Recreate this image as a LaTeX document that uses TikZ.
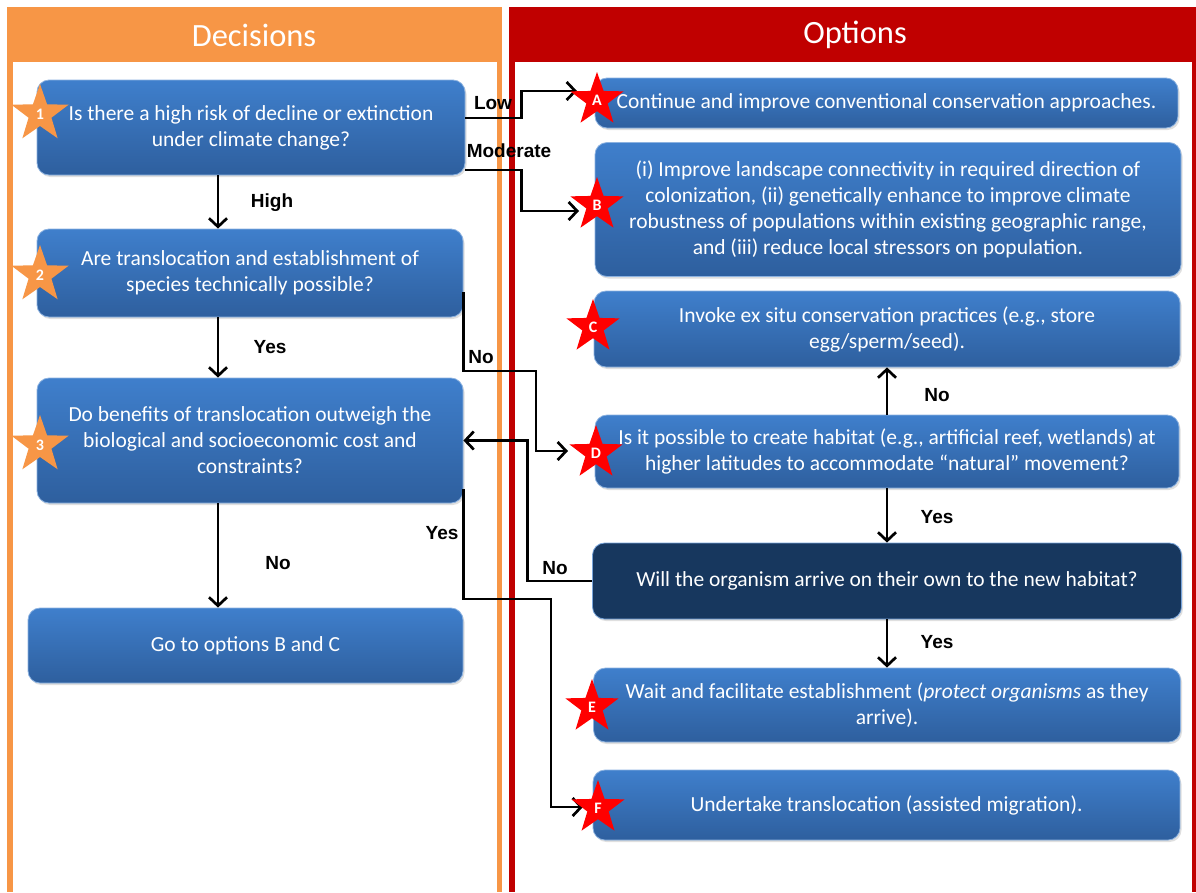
\documentclass[tikz,border=0pt]{standalone}
\usepackage{fontspec}
\setmainfont{Carlito}
\newfontfamily\labfont{Liberation Sans}
\usetikzlibrary{shapes.geometric,arrows.meta,calc,shadows}
\definecolor{boxtop}{HTML}{3F7FCC}
\definecolor{boxbot}{HTML}{2E5F9E}
\definecolor{darkbox}{HTML}{17375E}
\definecolor{orng}{HTML}{F79646}
\definecolor{dred}{HTML}{C00000}
\definecolor{starred}{HTML}{FF0000}
\begin{document}
\begin{tikzpicture}[x=1pt,y=-1pt,
  box/.style={rounded corners=12pt, top color=boxtop, bottom color=boxbot,
    draw=boxtop!60!white, line width=0.8pt, text=white, align=center,
    font=\fontsize{21.5}{26}\selectfont, inner sep=0pt,
    drop shadow={shadow xshift=1.5pt, shadow yshift=-2pt, opacity=0.25}},
  dbox/.style={box, top color=darkbox, bottom color=darkbox, draw=boxtop!70!white},
  ostar/.style={star, star points=5, star point ratio=2.5, minimum size=60pt,
    fill=orng, inner sep=0pt, text=white, font=\bfseries\fontsize{16}{16}\selectfont},
  rstar/.style={ostar, fill=starred, minimum size=56pt},
  lab/.style={font=\labfont\bfseries\fontsize{19}{19}\selectfont, inner sep=0pt},
  hdr/.style={text=white, font=\fontsize{32.5}{32.5}\selectfont, inner sep=0pt},
  arr/.style={line width=2.7pt, -{Straight Barb[length=8.5pt,width=18pt,line width=2.7pt]}}
]
\useasboundingbox (0,0) rectangle (1196,892);
\fill[white] (0,0) rectangle (1196,892);
% panels
\fill[orng] (7,7) rectangle (502,62);
\fill[orng] (7,7) rectangle (13,892);
\fill[orng] (496.5,7) rectangle (502,892);
\fill[dred] (509,7) rectangle (1196,62);
\fill[dred] (509,7) rectangle (514.5,892);
\fill[dred] (1192,7) rectangle (1196,892);
\node[hdr] (hD) at (254,35) {Decisions};
\node[hdr] (hO) at (855,35) {Options};

% decision boxes
\node[box, minimum width=428pt, minimum height=95pt] (b1) at (251,127.5)
  {Is there a high risk of decline or extinction\\under climate change?};
\node[box, minimum width=426pt, minimum height=88pt] (b2) at (250,273)
  {Are translocation and establishment of\\species technically possible?};
\node[box, minimum width=426pt, minimum height=125pt] (b3) at (250,440.5)
  {Do benefits of translocation outweigh the\\biological and socioeconomic cost and\\constraints?};
\node[box, minimum width=435pt, minimum height=75pt] (bGo) at (245.5,645.5)
  {Go to options B and C};

% option boxes
\node[box, minimum width=583pt, minimum height=50pt] (bA) at (886.5,103)
  {Continue and improve conventional conservation approaches.};
\node[box, minimum width=586pt, minimum height=134pt] (bB) at (888,209.5)
  {(i) Improve landscape connectivity in required direction of\\colonization, (ii) genetically enhance to improve climate\\robustness of populations within existing geographic range,\\and (iii) reduce local stressors on population.};
\node[box, minimum width=586pt, minimum height=76pt] (bC) at (887,329)
  {Invoke ex situ conservation practices (e.g., store\\egg/sperm/seed).};
\node[box, minimum width=584pt, minimum height=73pt] (bD) at (887,451.5)
  {Is it possible to create habitat (e.g., artificial reef, wetlands) at\\higher latitudes to accommodate “natural” movement?};
\node[dbox, minimum width=589pt, minimum height=76pt] (bW) at (887,581)
  {Will the organism arrive on their own to the new habitat?};
\node[box, minimum width=587pt, minimum height=74pt] (bE) at (887,705)
  {Wait and facilitate establishment (\textit{protect organisms} as they\\arrive).};
\node[box, minimum width=587pt, minimum height=70pt] (bF) at (886.5,805)
  {Undertake translocation (assisted migration).};

% connector targets
\coordinate (ax) at (218,0);
\coordinate (tA) at (577,91);
\coordinate (tB) at (579,211);
\coordinate (tD) at (568,451);
\coordinate (tF) at (583,807);

% connectors
\draw[arr] (b1.south -| ax) -- (b2.north -| ax);
\draw[arr] (b2.south -| ax) -- (b3.north -| ax);
\draw[arr] (b3.south -| ax) -- (bGo.north -| ax);
\draw[arr] ([yshift=9.5pt]b1.east) -- ++(56,0) |- (tA);
\draw[arr] ([yshift=-42.5pt]b1.east) -- ++(56,0) |- (tB);
\draw[arr] ([yshift=-19pt]b2.east) |- (536,371) |- (tD);
\draw[arr] (bW.west) -| ([xshift=64pt]b3.east) -- (b3.east);
\draw[arr] ([yshift=-48.5pt]b3.east) |- (551,599) |- (tF);
\draw[arr] (bD.north) -- (bC.south);
\draw[arr] (bD.south) -- (bW.north);
\draw[arr] (bW.south) -- (bE.north);

% labels
\node[lab] (lLow) at (493,103) {Low};
\node[lab] (lMod) at (509,151) {Moderate};
\node[lab] (lHigh) at (272,203) {High};
\node[lab] (lY1) at (270,347) {Yes};
\node[lab] (lN1) at (278,563) {No};
\node[lab] (lN2) at (481,357) {No};
\node[lab] (lN3) at (555,568) {No};
\node[lab] (lY2) at (442,533) {Yes};
\node[lab] (lN4) at (937,395) {No};
\node[lab] (lY3) at (937,517) {Yes};
\node[lab] (lY4) at (937,642) {Yes};

% stars
\node[ostar] (s1) at (40,114) {1};
\node[ostar] (s2) at (40,275) {2};
\node[ostar] (s3) at (40,445) {3};
\node[rstar] (sA) at (597,100) {A};
\node[rstar] (sB) at (597,205) {B};
\node[rstar] (sC) at (593,327) {C};
\node[rstar] (sD) at (596,453) {D};
\node[rstar] (sE) at (592,707) {E};
\node[rstar] (sF) at (598,808) {F};
\end{tikzpicture}
\end{document}
